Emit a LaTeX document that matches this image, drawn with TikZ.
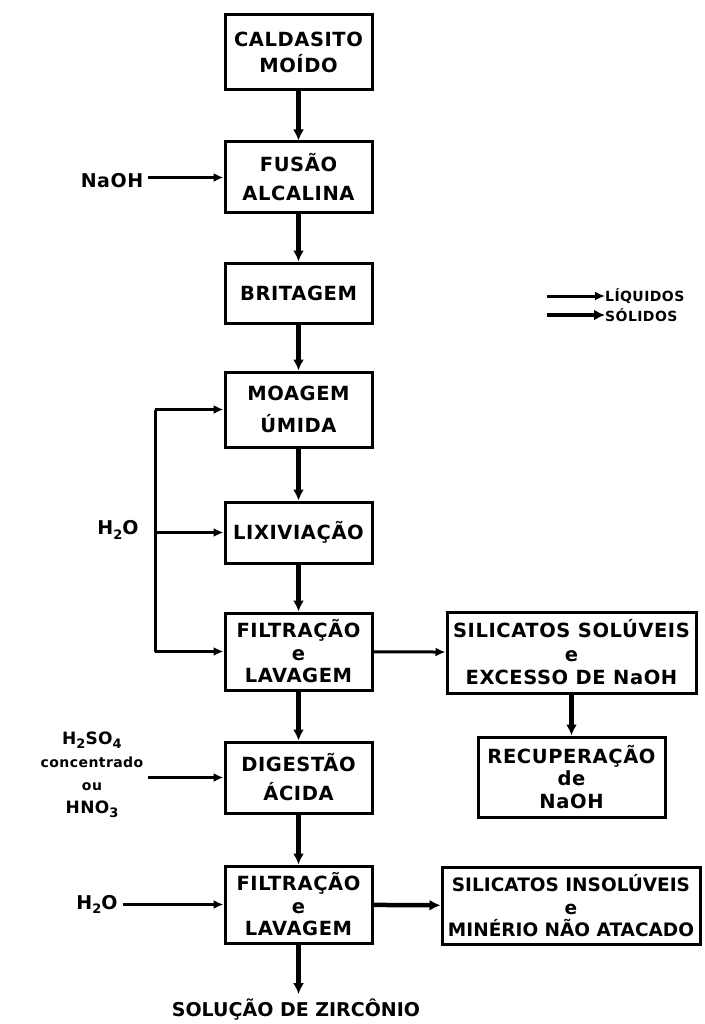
\documentclass[tikz,border=0pt]{standalone}
\usepackage{fontspec}
\setmainfont{DejaVu Sans}[LetterSpace=3]
\usetikzlibrary{arrows.meta}
\newcommand\sbs[1]{\raisebox{-0.4ex}{\fontsize{13}{13}\selectfont #1}}
\begin{document}
\begin{tikzpicture}[x=1pt,y=-1pt,
  box/.style={draw, line width=3pt, align=center, inner sep=0pt, minimum width=147pt,
    font=\fontsize{19.5}{29}\selectfont\bfseries},
  box3/.style={box, font=\fontsize{19.5}{22.5}\selectfont\bfseries},
  lbl/.style={font=\fontsize{19}{22}\selectfont\bfseries, inner sep=5pt},
  solidflow/.style={line width=4.5pt, -{Latex[length=11pt,width=11pt]}},
  liqflow/.style={line width=3pt, -{Latex[length=10pt,width=9pt]}},
  liqline/.style={line width=3pt}]
\useasboundingbox (0,0) rectangle (704,1024);
% main column
\node[box, minimum height=75pt, font=\fontsize{19.5}{26}\selectfont\bfseries] (cald) at (298.5,52.5) {CALDASITO\\MOÍDO};
\node[box, minimum height=71pt] (fus) at (298.5,177.5) {FUSÃO\\ALCALINA};
\node[box, minimum height=60pt] (brit) at (298.5,293) {BRITAGEM};
\node[box, minimum height=75pt, font=\fontsize{19.5}{32}\selectfont\bfseries] (moag) at (298.5,409.5) {MOAGEM\\ÚMIDA};
\node[box, minimum height=61pt] (lix) at (298.5,532.5) {LIXIVIAÇÃO};
\node[box3, minimum height=77pt] (filt1) at (298.5,651.5) {FILTRAÇÃO\\e\\LAVAGEM};
\node[box, minimum height=71pt] (dig) at (298.5,777.5) {DIGESTÃO\\ÁCIDA};
\node[box3, minimum height=77pt] (filt2) at (298.5,904.5) {FILTRAÇÃO\\e\\LAVAGEM};
\node[lbl, font=\fontsize{19}{22}\selectfont\bfseries\addfontfeature{LetterSpace=0}] (sol) at (296,1010) {SOLUÇÃO DE ZIRCÔNIO};
% right column
\node[box3, minimum width=249pt, minimum height=81pt, font=\fontsize{19.5}{23.5}\selectfont\bfseries] (silsol) at (571.5,652.5) {SILICATOS SOLÚVEIS\\e\\EXCESSO DE NaOH};
\node[box3, minimum width=187pt, minimum height=80pt] (recup) at (571.5,777) {RECUPERAÇÃO\\de\\NaOH};
\node[box3, minimum width=258pt, minimum height=77pt, font=\fontsize{18.5}{22.5}\selectfont\bfseries\addfontfeature{LetterSpace=0}] (silins) at (571,906) {SILICATOS INSOLÚVEIS\\e\\MINÉRIO NÃO ATACADO};
% left inputs
\node[lbl] (naoh) at (112,181) {NaOH};
\node[lbl] (h2oa) at (118,530) {H\sbs{2}O};
\node[lbl, align=center, font=\fontsize{14}{23}\selectfont\bfseries] (acid) at (92,775) {{\fontsize{17}{23}\selectfont H\sbs{2}SO\sbs{4}}\\concentrado\\ou\\{\fontsize{17}{23}\selectfont HNO\sbs{3}}};
\node[lbl] (h2ob) at (97,904.5) {H\sbs{2}O};
% legend
\node[anchor=west, inner sep=0pt, font=\fontsize{14}{14}\selectfont\bfseries] (liqt) at (605,296) {LÍQUIDOS};
\node[anchor=west, inner sep=0pt, font=\fontsize{14}{14}\selectfont\bfseries] (solt) at (605,315) {SÓLIDOS};
\coordinate (liqs) at (547,296);
\coordinate (sols) at (547,315);
% water manifold
\coordinate (wtop) at (155,409.5);
\coordinate (wmid) at (155,532.5);
\coordinate (wbot) at (155,651.5);
% connectors
\draw[solidflow] (cald) -- (fus);
\draw[solidflow] (fus) -- (brit);
\draw[solidflow] (brit) -- (moag);
\draw[solidflow] (moag) -- (lix);
\draw[solidflow] (lix) -- (filt1);
\draw[solidflow] (filt1) -- (dig);
\draw[solidflow] (dig) -- (filt2);
\draw[solidflow] (filt2.south) -- (filt2.south |- sol.north);
\draw[liqflow] (filt1) -- (silsol);
\draw[solidflow] (silsol) -- (recup);
\draw[solidflow] (filt2) -- (silins);
\draw[liqflow] (naoh.east |- fus.west) -- (fus.west);
\draw[liqline] (wtop) -- (wbot);
\draw[liqflow] (wtop) -- (moag.west);
\draw[liqflow] (wmid) -- (lix.west);
\draw[liqflow] (wbot) -- (filt1.west);
\draw[liqflow] (acid.east |- dig.west) -- (dig.west);
\draw[liqflow] (h2ob) -- (filt2);
\draw[liqflow] (liqs) -- (liqt.west);
\draw[solidflow] (sols) -- (solt.west);
\end{tikzpicture}
\end{document}
